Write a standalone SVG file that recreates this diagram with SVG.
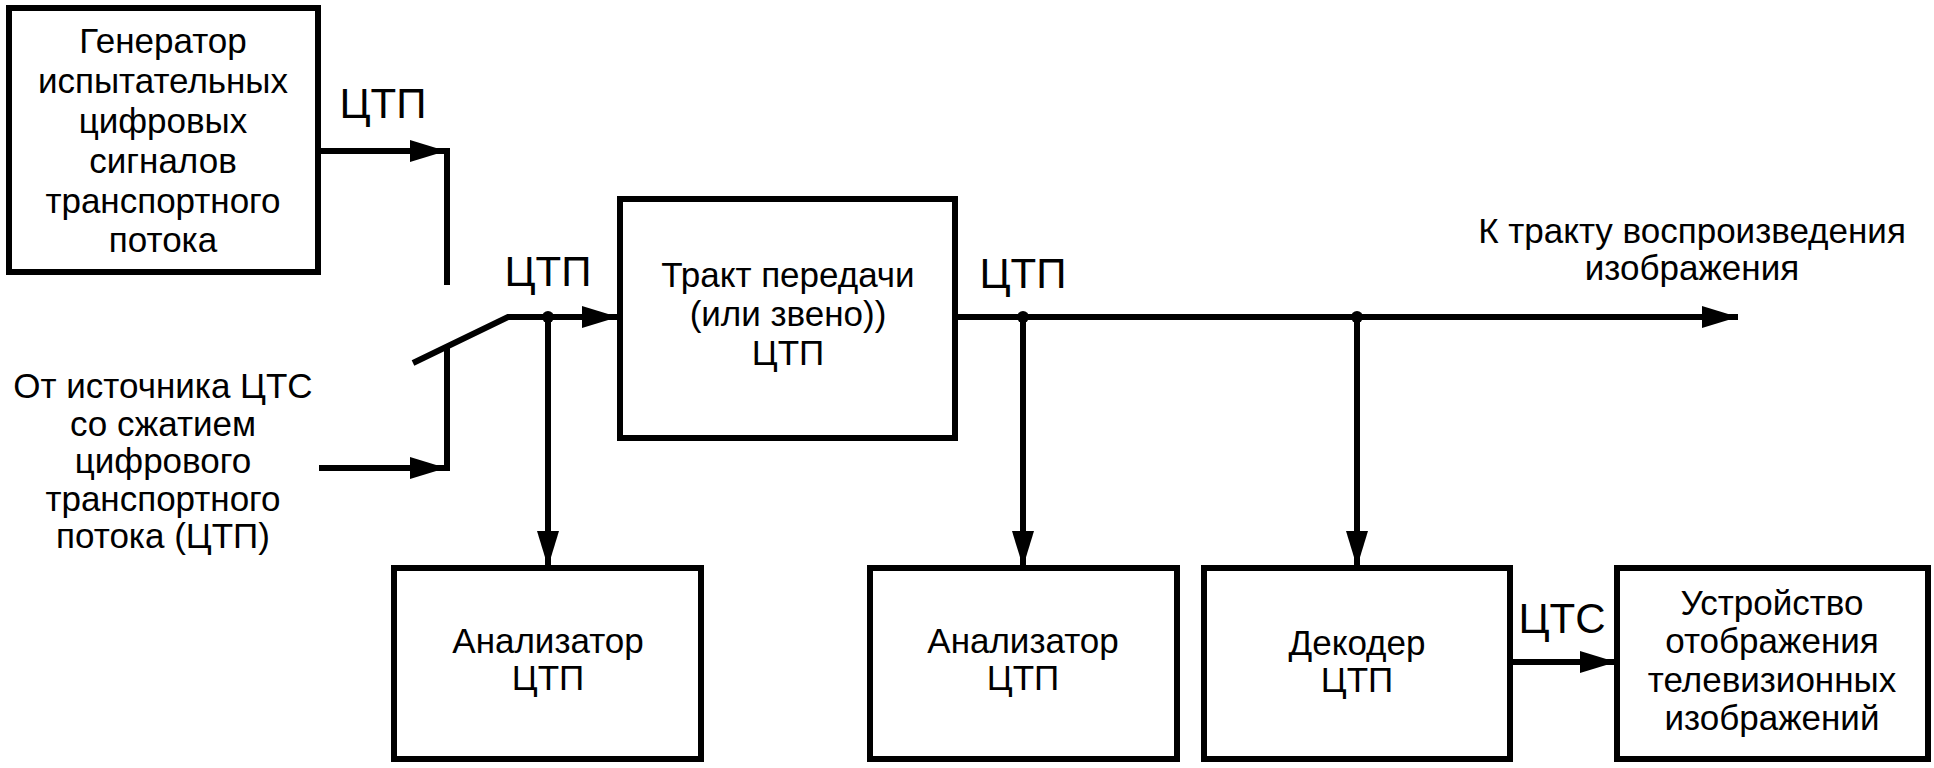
<svg xmlns="http://www.w3.org/2000/svg" width="1934" height="768" viewBox="0 0 1934 768">
<style>
.box{fill:#fff;stroke:#000;stroke-width:6}
.ln{fill:none;stroke:#000;stroke-width:6}
.t{font-family:"Liberation Sans",Arial,sans-serif;font-size:35px;fill:#000;text-anchor:middle}
.lb{font-family:"Liberation Sans",Arial,sans-serif;font-size:42px;fill:#000;text-anchor:middle}
</style>
<defs>
<marker id="ah" markerUnits="userSpaceOnUse" markerWidth="36" markerHeight="22" refX="36" refY="11" orient="auto">
<path d="M0,0 L36,11 L0,22 z" fill="#000"/>
</marker>
</defs>
<rect width="1934" height="768" fill="#fff"/>
<g id="connectors">
<line class="ln" x1="318" y1="151" x2="446" y2="151" marker-end="url(#ah)"/>
<line class="ln" x1="447" y1="148" x2="447" y2="285"/>
<polyline class="ln" points="413,363 508,317 548,317"/>
<line class="ln" x1="548" y1="317" x2="618" y2="317" marker-end="url(#ah)"/>
<line class="ln" x1="447" y1="346" x2="447" y2="471"/>
<line class="ln" x1="319" y1="468" x2="446" y2="468" marker-end="url(#ah)"/>
<line class="ln" x1="548" y1="317" x2="548" y2="567" marker-end="url(#ah)"/>
<line class="ln" x1="955" y1="317" x2="1738" y2="317" marker-end="url(#ah)"/>
<line class="ln" x1="1023" y1="317" x2="1023" y2="567" marker-end="url(#ah)"/>
<line class="ln" x1="1357" y1="317" x2="1357" y2="567" marker-end="url(#ah)"/>
<line class="ln" x1="1510" y1="662" x2="1616" y2="662" marker-end="url(#ah)"/>
<circle cx="548" cy="317" r="6" fill="#000"/>
<circle cx="1023" cy="317" r="6" fill="#000"/>
<circle cx="1357" cy="317" r="6" fill="#000"/>
<text class="lb" x="383" y="118">ЦТП</text>
<text class="lb" x="548" y="286">ЦТП</text>
<text class="lb" x="1023" y="288">ЦТП</text>
<text class="lb" x="1562" y="633">ЦТС</text>
</g>
<g id="generator">
<rect class="box" x="9" y="8" width="309" height="264"/>
<text class="t" x="163" y="53">Генератор</text>
<text class="t" x="163" y="93">испытательных</text>
<text class="t" x="163" y="133">цифровых</text>
<text class="t" x="163" y="173">сигналов</text>
<text class="t" x="163" y="213">транспортного</text>
<text class="t" x="163" y="252">потока</text>
</g>
<g id="source">
<text class="t" x="163" y="398">От источника ЦТС</text>
<text class="t" x="163" y="435.5">со сжатием</text>
<text class="t" x="163" y="473">цифрового</text>
<text class="t" x="163" y="510.5">транспортного</text>
<text class="t" x="163" y="548">потока (ЦТП)</text>
</g>
<g id="path">
<rect class="box" x="620" y="199" width="335" height="239"/>
<text class="t" x="788" y="287">Тракт передачи</text>
<text class="t" x="788" y="326">(или звено))</text>
<text class="t" x="788" y="365">ЦТП</text>
</g>
<g id="output">
<text class="t" x="1692" y="243">К тракту воспроизведения</text>
<text class="t" x="1692" y="280">изображения</text>
</g>
<g id="analyzer1">
<rect class="box" x="394" y="568" width="307" height="191"/>
<text class="t" x="548" y="653">Анализатор</text>
<text class="t" x="548" y="690">ЦТП</text>
</g>
<g id="analyzer2">
<rect class="box" x="870" y="568" width="307" height="191"/>
<text class="t" x="1023" y="653">Анализатор</text>
<text class="t" x="1023" y="690">ЦТП</text>
</g>
<g id="decoder">
<rect class="box" x="1204" y="568" width="306" height="191"/>
<text class="t" x="1357" y="655">Декодер</text>
<text class="t" x="1357" y="692">ЦТП</text>
</g>
<g id="display">
<rect class="box" x="1617" y="568" width="311" height="191"/>
<text class="t" x="1772" y="615">Устройство</text>
<text class="t" x="1772" y="653">отображения</text>
<text class="t" x="1772" y="692">телевизионных</text>
<text class="t" x="1772" y="730">изображений</text>
</g>
</svg>
